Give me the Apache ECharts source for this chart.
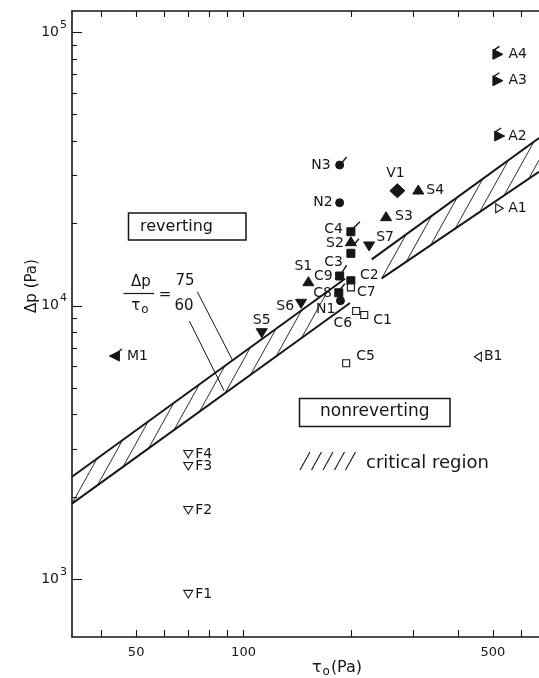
<!DOCTYPE html>
<html>
<head>
<meta charset="utf-8">
<script src="https://cdn.jsdelivr.net/npm/echarts@6/dist/echarts.min.js"></script>
<style>
  html, body { margin: 0; padding: 0; background: #fff; }
  #chart { width: 539px; height: 678px; }
</style>
</head>
<body>
<div id="chart"></div>
<script>
// ---- Data --------------------------------------------------------------
// Sample identifiers
const sampleNames = ['A1', 'A2', 'A3', 'A4', 'B1', 'M1', 'N1', 'N2', 'N3', 'V1',
  'S1', 'S2', 'S3', 'S4', 'S5', 'S6', 'S7',
  'C1', 'C2', 'C3', 'C4', 'C5', 'C6', 'C7', 'C8', 'C9',
  'F1', 'F2', 'F3', 'F4'];
// Yield stress tau_o (Pa)
const yieldStress = [521, 521, 515, 515, 454, 43.6, 187, 186, 186, 270,
  152, 200, 251, 309, 112.5, 145, 225,
  218, 200, 200, 200, 194, 207, 200, 185, 186,
  70, 70, 70, 70];
// Pressure drop Δp (Pa)
const pressureDrop = [22730, 41770, 66530, 83100, 6510, 6550, 10440, 23820, 32720, 26350,
  12250, 17160, 21180, 26510, 7975, 10210, 16550,
  9256, 12350, 15560, 18660, 6163, 9573, 11680, 11160, 12850,
  884, 1792, 2596, 2871];

// Critical region boundaries (tau_o, Δp), drawn in two pieces
const criticalUpperLeft = [[33.05, 2370], [192.6, 12560]];
const criticalLowerLeft = [[33.05, 1891], [198.9, 10240]];
const criticalUpperRight = [[228.8, 14790], [673.6, 41070]];
const criticalLowerRight = [[244.0, 12600], [673.6, 30930]];

// Leader lines from the Δp/τo = 75 / 60 annotation to the boundaries
const ratio75Leader = [[74.2, 11260], [93.3, 6300]];
const ratio60Leader = [[70.5, 8800], [88.2, 4894]];

// Axis ticks and labels
const xTickValues = [40, 50, 60, 70, 80, 90, 100, 200, 300, 400, 500, 600];
const xLabelValues = [50, 100, 500];
const yMajorValues = [1e3, 1e4, 1e5];
const yMinorValues = [2e3, 3e3, 4e3, 5e3, 6e3, 7e3, 8e3, 9e3,
  2e4, 3e4, 4e4, 5e4, 6e4, 7e4, 8e4, 9e4];

// ---- Styling -------------------------------------------------------------
const INK = '#161616';
const FONT = '"DejaVu Sans", sans-serif';
const X_MIN = 33.05, X_MAX = 673.6, Y_MIN = 615, Y_MAX = 119700;

// marker shape, open/filled, optional flag stroke, label offset [dx, dy, align]
const sampleStyle = {
  A1: { shape: 'right', open: true, lab: [9, 0, 'left'] },
  A2: { shape: 'right', flag: [-4, -4, 2, -8], lab: [9, 0, 'left'] },
  A3: { shape: 'right', flag: [-4, -4, 2, -8], lab: [11, 0, 'left'] },
  A4: { shape: 'right', flag: [-4, -4, 2, -8], lab: [11, 0, 'left'] },
  B1: { shape: 'left', open: true, lab: [6, 0, 'left'] },
  M1: { shape: 'left', flag: [2, -3, 7, -7], lab: [12, 0, 'left'] },
  N1: { shape: 'circle', lab: [-5, 9, 'right'] },
  N2: { shape: 'circle', lab: [-7, 0, 'right'] },
  N3: { shape: 'circle', flag: [2, -2, 7, -8], lab: [-9, 0, 'right'] },
  V1: { shape: 'diamond', lab: [-2, -17, 'center'] },
  S1: { shape: 'up', lab: [-5, -15, 'center'] },
  S2: { shape: 'up', flag: [3, 3, 8, -3], lab: [-7, 2, 'right'] },
  S3: { shape: 'up', lab: [9, 0, 'left'] },
  S4: { shape: 'up', lab: [8, 0, 'left'] },
  S5: { shape: 'down', lab: [0, -12, 'center'] },
  S6: { shape: 'down', lab: [-7, 3, 'right'] },
  S7: { shape: 'down', lab: [7, -9, 'left'] },
  C1: { shape: 'square', open: true, lab: [9, 5, 'left'] },
  C2: { shape: 'square', lab: [9, -5, 'left'] },
  C3: { shape: 'square', lab: [-8, 9, 'right'] },
  C4: { shape: 'square', flag: [2, -3, 9, -10], lab: [-8, -2, 'right'] },
  C5: { shape: 'square', open: true, lab: [10, -7, 'left'] },
  C6: { shape: 'square', open: true, lab: [-4, 12, 'right'] },
  C7: { shape: 'square', open: true, lab: [6, 5, 'left'] },
  C8: { shape: 'square', flag: [1, -3, 6, -9], lab: [-7, 1, 'right'] },
  C9: { shape: 'square', flag: [2, -3, 7, -11], lab: [-7, 0, 'right'] },
  F1: { shape: 'down', open: true, lab: [7, 0, 'left'] },
  F2: { shape: 'down', open: true, lab: [7, 0, 'left'] },
  F3: { shape: 'down', open: true, lab: [7, 0, 'left'] },
  F4: { shape: 'down', open: true, lab: [7, 0, 'left'] }
};

function markerElement(kind, open, cx, cy) {
  const style = { fill: open ? '#fff' : INK, stroke: INK, lineWidth: open ? 1.1 : 1 };
  const poly = pts => ({ type: 'polygon', shape: { points: pts.map(p => [cx + p[0], cy + p[1]]) }, style });
  switch (kind) {
    case 'up': return poly([[0, -5], [5.5, 4], [-5.5, 4]]);
    case 'down': return open ? poly([[-4.5, -3.5], [4.5, -3.5], [0, 4]]) : poly([[-5.5, -4], [5.5, -4], [0, 5]]);
    case 'left': return open ? poly([[-3.5, 0], [3.5, -4.5], [3.5, 4.5]]) : poly([[-5.5, 0], [4.5, -5], [4.5, 5]]);
    case 'right': return open ? poly([[4, 0], [-3.5, -4.5], [-3.5, 4.5]]) : poly([[5.5, 0], [-4.5, -5], [-4.5, 5]]);
    case 'square': return open
      ? { type: 'rect', shape: { x: cx - 3.5, y: cy - 3.5, width: 7, height: 7 }, style }
      : { type: 'rect', shape: { x: cx - 4, y: cy - 4, width: 8, height: 8 }, style };
    case 'circle': return { type: 'circle', shape: { cx, cy, r: 4 }, style };
    case 'diamond': return poly([[0, -7], [7.5, 0], [0, 7], [-7.5, 0]]);
  }
}

function renderSample(params, api) {
  const name = sampleNames[params.dataIndex];
  const st = sampleStyle[name];
  const [cx, cy] = api.coord([api.value(0), api.value(1)]);
  const children = [markerElement(st.shape, st.open, cx, cy)];
  if (st.flag) {
    children.push({ type: 'line',
      shape: { x1: cx + st.flag[0], y1: cy + st.flag[1], x2: cx + st.flag[2], y2: cy + st.flag[3] },
      style: { stroke: INK, lineWidth: 1.4 } });
  }
  children.push({ type: 'text', x: cx + st.lab[0], y: cy + st.lab[1],
    style: { text: name, fill: INK, font: '14px ' + FONT, align: st.lab[2], verticalAlign: 'middle' } });
  return { type: 'group', children };
}

// Hatched critical band: boundaries plus diagonal hatching between them
const bandPieces = [
  { upper: criticalUpperLeft, lower: criticalLowerLeft, step: 25.5 },
  { upper: criticalUpperRight, lower: criticalLowerRight, step: 24.5 }
];
function renderBand(params, api) {
  const piece = bandPieces[params.dataIndex];
  const u0 = api.coord(piece.upper[0]), u1 = api.coord(piece.upper[1]);
  const l0 = api.coord(piece.lower[0]), l1 = api.coord(piece.lower[1]);
  const edge = { stroke: INK, lineWidth: 2 };
  const children = [
    { type: 'line', shape: { x1: u0[0], y1: u0[1], x2: u1[0], y2: u1[1] }, style: edge },
    { type: 'line', shape: { x1: l0[0], y1: l0[1], x2: l1[0], y2: l1[1] }, style: edge }
  ];
  const mu = (u1[1] - u0[1]) / (u1[0] - u0[0]);
  const ml = (l1[1] - l0[1]) / (l1[0] - l0[0]);
  const k = 1.8;
  const right = params.coordSys.x + params.coordSys.width;
  for (let x = l0[0]; x <= l1[0]; x += piece.step) {
    const yl = l0[1] + ml * (x - l0[0]);
    const yu = u0[1] + mu * (x - u0[0]);
    const s = (yl - yu) / (k + mu);
    let xe = x + s, ye = yl - k * s;
    if (xe > u1[0] + 0.5) {
      if (x >= right - 1 || piece === bandPieces[0]) break;
      // clip at the right edge of the plot
      const t = (right - x) / s;
      xe = right; ye = yl - k * s * t;
    }
    children.push({ type: 'line', shape: { x1: x, y1: yl, x2: xe, y2: ye },
      style: { stroke: INK, lineWidth: 0.9 } });
  }
  return { type: 'group', children };
}

const chart = echarts.init(document.getElementById('chart'), null, { renderer: 'canvas' });

const axisLineStyle = { color: INK, width: 1.6 };
const logX = {
  type: 'log', logBase: 10, min: X_MIN, max: X_MAX,
  splitLine: { show: false }, minorTick: { show: false }, minorSplitLine: { show: false }
};
const logY = {
  type: 'log', logBase: 10, min: Y_MIN, max: Y_MAX,
  splitLine: { show: false }, minorTick: { show: false }, minorSplitLine: { show: false }
};

chart.setOption({
  animation: false,
  backgroundColor: '#fff',
  grid: { left: 72, top: 11, right: 0, bottom: 41, containLabel: false },
  xAxis: [
    Object.assign({}, logX, {
      position: 'bottom',
      axisLine: { show: true, onZero: false, lineStyle: axisLineStyle },
      axisTick: { show: true, inside: true, length: 7, customValues: xTickValues, lineStyle: { color: INK, width: 1.1 } },
      axisLabel: { show: true, customValues: xLabelValues, margin: 9, color: INK, fontSize: 13, fontFamily: FONT }
    }),
    Object.assign({}, logX, {
      position: 'top',
      axisLine: { show: true, onZero: false, lineStyle: axisLineStyle },
      axisTick: { show: true, inside: true, length: 6, customValues: xTickValues, lineStyle: { color: INK, width: 1.1 } },
      axisLabel: { show: false }
    })
  ],
  yAxis: [
    Object.assign({}, logY, {
      position: 'left',
      axisLine: { show: true, onZero: false, lineStyle: axisLineStyle },
      axisTick: { show: true, inside: true, length: 10, customValues: yMajorValues, lineStyle: { color: INK, width: 1.1 } },
      axisLabel: {
        show: true, customValues: yMajorValues, margin: 5, color: INK,
        formatter: v => '{b|10}{s|' + Math.round(Math.log10(v)) + '}',
        rich: {
          b: { fontSize: 14, fontFamily: FONT, color: INK, lineHeight: 14, verticalAlign: 'bottom' },
          s: { fontSize: 11, fontFamily: FONT, color: INK, lineHeight: 14, verticalAlign: 'bottom', padding: [0, 0, 9, 1] }
        }
      }
    }),
    Object.assign({}, logY, {
      position: 'left',
      axisLine: { show: false },
      axisTick: { show: true, inside: true, length: 5, customValues: yMinorValues, lineStyle: { color: INK, width: 1.1 } },
      axisLabel: { show: false }
    })
  ],
  graphic: [
    // axis titles
    { type: 'text', x: 337, y: 668, style: { text: '{t|τ}{o|o}{t|(Pa)}', align: 'center', verticalAlign: 'middle',
      rich: { t: { font: '16px ' + FONT, fill: INK, verticalAlign: 'middle' }, o: { font: '12px ' + FONT, fill: INK, padding: [8, 1, 0, 1] } } } },
    { type: 'text', x: 32, y: 286, rotation: Math.PI / 2,
      style: { text: 'Δp (Pa)', font: '15px ' + FONT, fill: INK, align: 'center', verticalAlign: 'middle' } },
    // region boxes
    { type: 'rect', shape: { x: 128.5, y: 213, width: 117.5, height: 27 }, style: { fill: 'none', stroke: INK, lineWidth: 1.5 } },
    { type: 'text', x: 140, y: 227, style: { text: 'reverting', font: '16px ' + FONT, fill: INK, align: 'left', verticalAlign: 'middle' } },
    { type: 'rect', shape: { x: 299.5, y: 398.5, width: 150.5, height: 28 }, style: { fill: 'none', stroke: INK, lineWidth: 1.5 } },
    { type: 'text', x: 320, y: 412, style: { text: 'nonreverting', font: '17px ' + FONT, fill: INK, align: 'left', verticalAlign: 'middle' } },
    // hatch legend
    ...[300, 311.5, 323, 334.5, 345.5].map(x => ({ type: 'line', shape: { x1: x, y1: 470, x2: x + 10, y2: 452 }, style: { stroke: INK, lineWidth: 1.1 } })),
    { type: 'text', x: 366, y: 463, style: { text: 'critical region', font: '18px ' + FONT, fill: INK, align: 'left', verticalAlign: 'middle' } },
    // ratio annotation
    { type: 'text', x: 141, y: 282, style: { text: 'Δp', font: '15px ' + FONT, fill: INK, align: 'center', verticalAlign: 'middle' } },
    { type: 'line', shape: { x1: 123.5, y1: 293.5, x2: 154, y2: 293.5 }, style: { stroke: INK, lineWidth: 1.2 } },
    { type: 'text', x: 140, y: 306, style: { text: '{t|τ}{o|o}', align: 'center', verticalAlign: 'middle',
      rich: { t: { font: '15px ' + FONT, fill: INK }, o: { font: '12px ' + FONT, fill: INK, padding: [7, 0, 0, 1] } } } },
    { type: 'text', x: 165, y: 295, style: { text: '=', font: '15px ' + FONT, fill: INK, align: 'center', verticalAlign: 'middle' } },
    { type: 'text', x: 185, y: 281, style: { text: '75', font: '15px ' + FONT, fill: INK, align: 'center', verticalAlign: 'middle' } },
    { type: 'text', x: 184, y: 306, style: { text: '60', font: '15px ' + FONT, fill: INK, align: 'center', verticalAlign: 'middle' } }
  ],
  series: [
    {
      type: 'custom', name: 'critical region', xAxisIndex: 0, yAxisIndex: 0,
      renderItem: renderBand, silent: true,
      data: bandPieces.map(p => p.lower[0])
    },
    {
      type: 'line', name: 'ratio 75', xAxisIndex: 0, yAxisIndex: 0, data: ratio75Leader,
      symbol: 'none', silent: true, lineStyle: { color: INK, width: 1 }
    },
    {
      type: 'line', name: 'ratio 60', xAxisIndex: 0, yAxisIndex: 0, data: ratio60Leader,
      symbol: 'none', silent: true, lineStyle: { color: INK, width: 1 }
    },
    {
      type: 'custom', name: 'samples', xAxisIndex: 0, yAxisIndex: 0,
      renderItem: renderSample, silent: true,
      data: sampleNames.map((n, i) => [yieldStress[i], pressureDrop[i]])
    }
  ]
});
</script>
</body>
</html>
